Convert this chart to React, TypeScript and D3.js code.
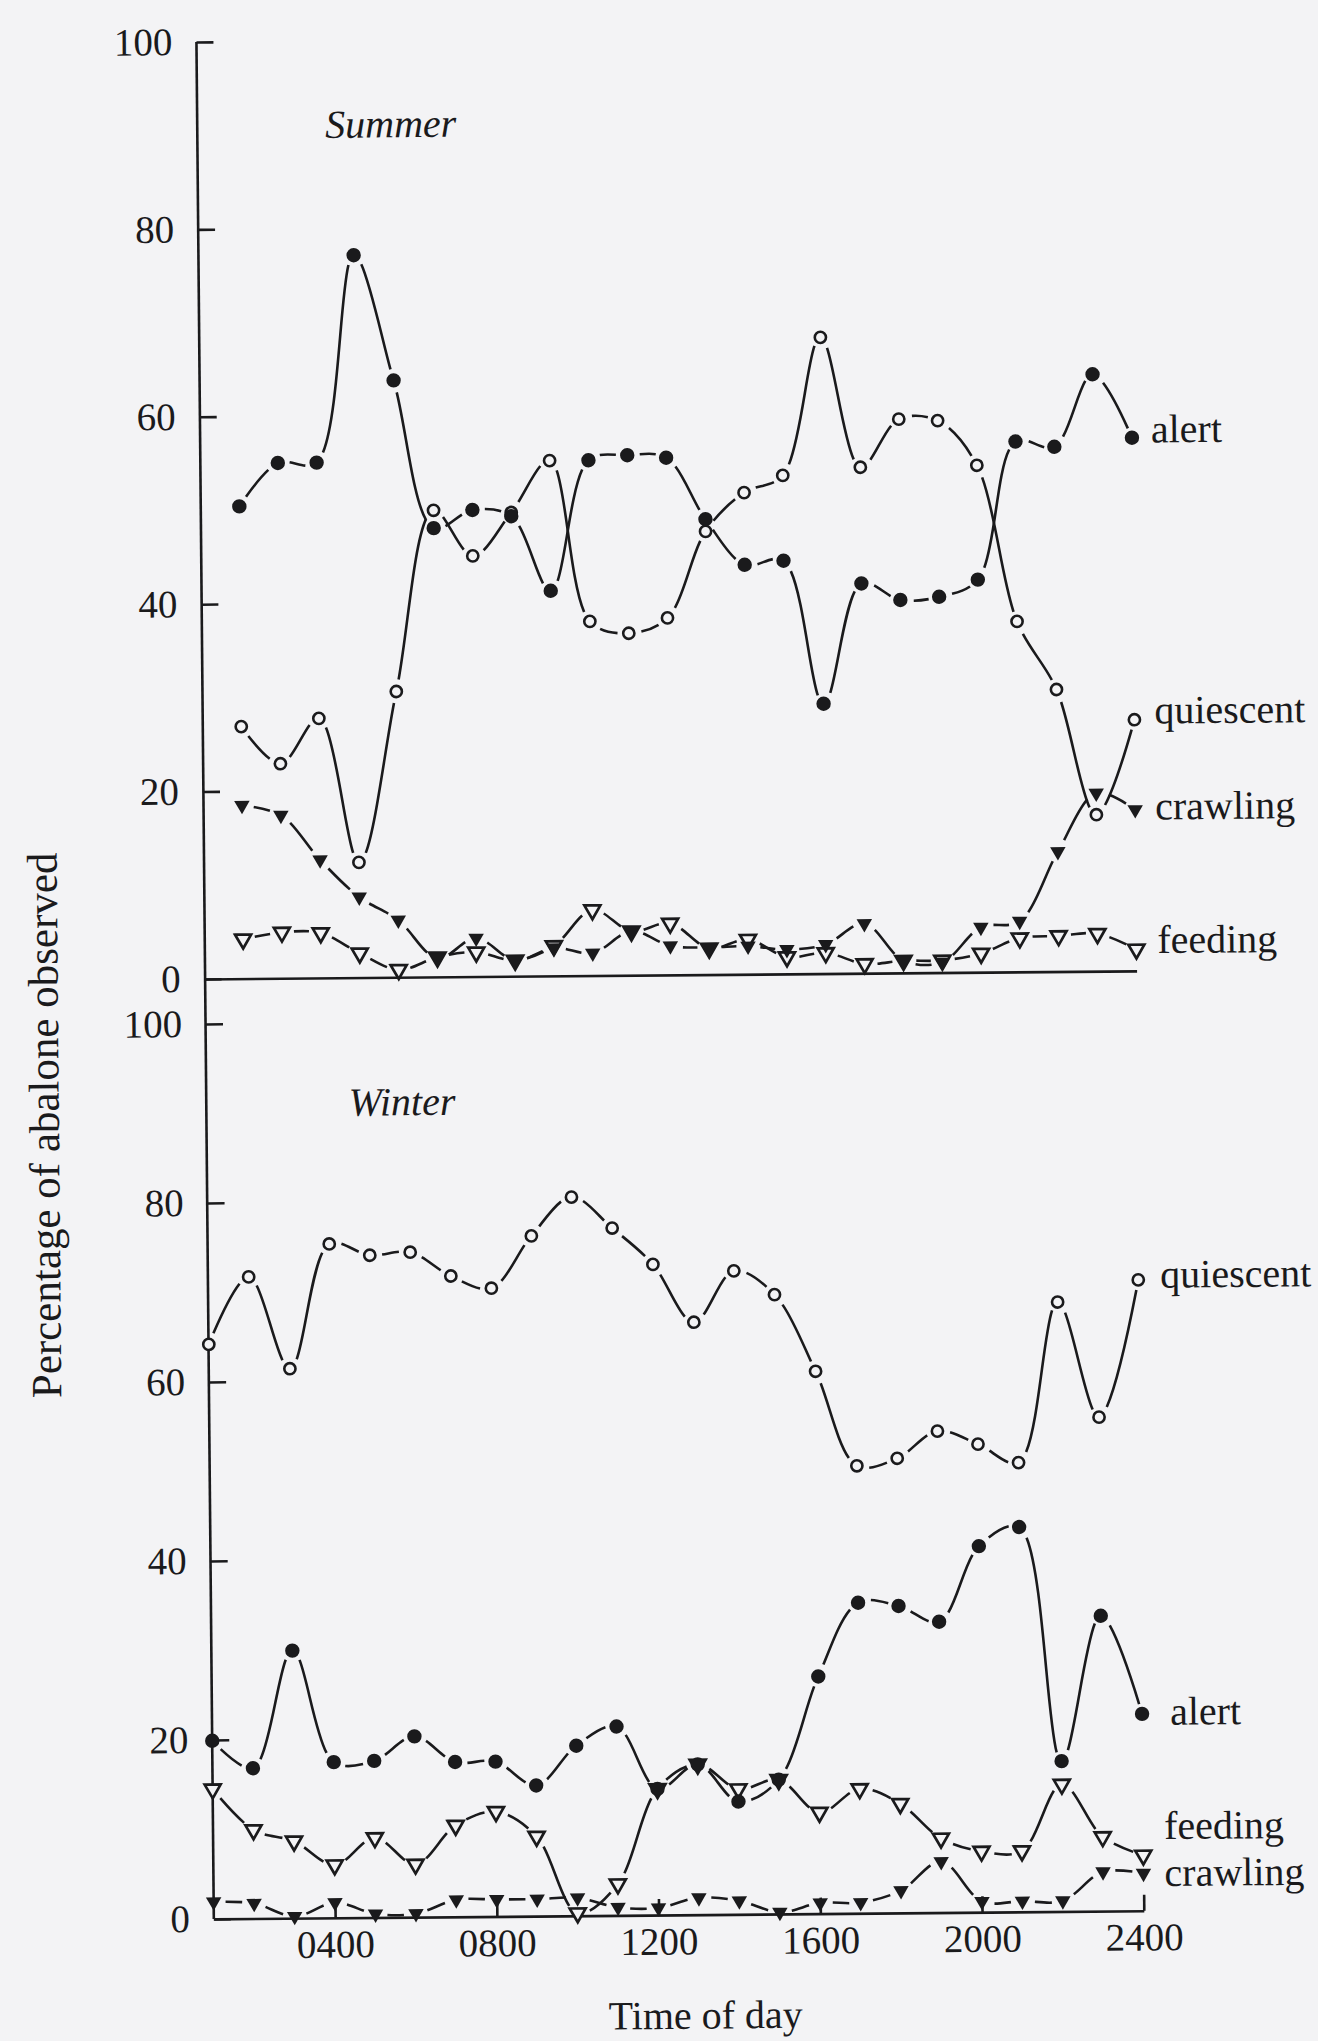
import React, { useEffect, useRef } from 'react';
import * as d3 from 'd3';

// hour of observation (0100 ... 2400)
const hours = [1, 2, 3, 4, 5, 6, 7, 8, 9, 10, 11, 12, 13, 14, 15, 16, 17, 18, 19, 20, 21, 22, 23, 24];
const xTickHours = [4, 8, 12, 16, 20, 24];
const xTickLabels = ['0400', '0800', '1200', '1600', '2000', '2400'];
const yTicks = [0, 20, 40, 60, 80, 100];

// Summer (% of abalone observed)
const summerAlert = [50.4, 55.0, 55.0, 77.1, 63.7, 47.9, 49.8, 49.1, 41.1, 55.0, 55.5, 55.2, 48.6, 43.7, 44.1, 28.8, 41.6, 39.8, 40.1, 41.9, 56.6, 56.0, 63.7, 56.9];
const summerQuiescent = [26.9, 22.9, 27.7, 12.3, 30.5, 49.8, 44.9, 49.5, 55.0, 37.8, 36.5, 38.1, 47.3, 51.4, 53.2, 67.9, 54.0, 59.1, 58.9, 54.1, 37.4, 30.1, 16.7, 26.8];
const summerCrawling = [18.5, 17.4, 12.6, 8.6, 6.1, 2.0, 4.1, 1.7, 3.0, 2.4, 4.7, 3.1, 2.9, 3.0, 2.6, 3.1, 5.3, 1.3, 1.1, 4.8, 5.4, 12.8, 19.0, 17.2];
const summerFeeding = [4.2, 4.9, 4.8, 2.6, 0.8, 2.1, 2.6, 1.7, 3.2, 7.0, 4.7, 5.5, 2.8, 3.7, 1.8, 2.2, 1.0, 1.3, 1.3, 2.0, 3.6, 3.8, 4.0, 2.3];

// Winter
const winterQuiescent = [64.2, 71.7, 61.4, 75.3, 74.0, 74.3, 71.6, 70.2, 76.0, 80.3, 76.8, 72.7, 66.2, 71.9, 69.2, 60.6, 50.0, 50.8, 53.8, 52.3, 50.2, 68.1, 55.2, 70.5];
const winterAlert = [19.9, 16.8, 29.9, 17.4, 17.5, 20.2, 17.3, 17.3, 14.6, 19.0, 21.1, 14.1, 16.8, 12.6, 15.0, 26.5, 34.7, 34.3, 32.5, 40.9, 43.0, 16.8, 33.0, 22.0];
const winterFeeding = [14.5, 9.9, 8.6, 5.9, 8.9, 5.9, 10.2, 11.7, 8.9, 0.3, 3.5, 14.1, 16.8, 14.0, 15.0, 11.3, 13.9, 12.2, 8.3, 6.8, 6.8, 14.2, 8.3, 6.2];
const winterCrawling = [1.9, 1.7, 0.2, 1.7, 0.4, 0.4, 1.9, 1.9, 1.9, 2.0, 0.9, 0.8, 1.9, 1.5, 0.2, 1.2, 1.2, 2.5, 5.7, 1.2, 1.2, 1.2, 4.4, 4.2];

const INK = '#1a1a1c';
const PAPER = '#f3f3f5';
const FONT = '"Liberation Serif", "DejaVu Serif", serif';

type Marker = 'dot' | 'ring' | 'tri' | 'openTri';

export default function App() {
  const svgRef = useRef<SVGSVGElement>(null);

  useEffect(() => {
    if (!svgRef.current) return;
    const width = 1318;
    const height = 2041;

    const svg = d3.select(svgRef.current);
    svg.selectAll('*').remove();
    svg.append('rect').attr('width', width).attr('height', height).attr('fill', PAPER);

    // the printed figure sits slightly askew on the page
    const root = svg.append('g').attr('transform', 'rotate(-0.5, 659, 1020)');

    // Scales
    const xS = d3.scaleLinear().domain([0, 24]).range([205, 1137]);
    const yS = d3.scaleLinear().domain([0, 100]).range([975, 38]);
    const xW = d3.scaleLinear().domain([1, 24]).range([206, 1136]);
    const yW = d3.scaleLinear().domain([0, 100]).range([1915, 1020]);

    const panels = [
      {
        x: xS,
        y: yS,
        series: [
          { name: 'feeding', values: summerFeeding, marker: 'openTri' as Marker, dx: 21, dy: 4 },
          { name: 'quiescent', values: summerQuiescent, marker: 'ring' as Marker, dx: 20, dy: 4 },
          { name: 'crawling', values: summerCrawling, marker: 'tri' as Marker, dx: 20, dy: 10 },
          { name: 'alert', values: summerAlert, marker: 'dot' as Marker, dx: 19, dy: 5 },
        ],
      },
      {
        x: xW,
        y: yW,
        series: [
          { name: 'feeding', values: winterFeeding, marker: 'openTri' as Marker, dx: 21, dy: -16 },
          { name: 'quiescent', values: winterQuiescent, marker: 'ring' as Marker, dx: 22, dy: 8 },
          { name: 'crawling', values: winterCrawling, marker: 'tri' as Marker, dx: 21, dy: 13 },
          { name: 'alert', values: winterAlert, marker: 'dot' as Marker, dx: 28, dy: 11 },
        ],
      },
    ];

    // Axes
    const styleAxis = (g: d3.Selection<SVGGElement, unknown, null, undefined>) => {
      g.attr('font-family', FONT).attr('font-size', 39).attr('color', INK);
      g.selectAll('line').attr('stroke-width', 2.6);
      g.selectAll('path').attr('stroke-width', 2.6);
    };

    const ySummerAxis = root
      .append('g')
      .attr('transform', `translate(${xS(0)},0)`)
      .call(d3.axisLeft(yS).tickValues(yTicks).tickSizeInner(-17).tickSizeOuter(0).tickPadding(24));
    ySummerAxis.select('.domain').remove();
    styleAxis(ySummerAxis);

    const yWinterAxis = root
      .append('g')
      .attr('transform', `translate(${xW(1)},0)`)
      .call(d3.axisLeft(yW).tickValues(yTicks).tickSizeInner(-17).tickSizeOuter(0).tickPadding(24));
    yWinterAxis.select('.domain').remove();
    styleAxis(yWinterAxis);

    // one continuous spine for both panels
    root
      .append('line')
      .attr('x1', xS(0))
      .attr('y1', yS(100))
      .attr('x2', xW(1))
      .attr('y2', yW(0))
      .attr('stroke', INK)
      .attr('stroke-width', 2.6);

    const xSummerAxis = root
      .append('g')
      .attr('transform', `translate(0,${yS(0)})`)
      .call(d3.axisBottom(xS).tickValues([]).tickSizeOuter(0));
    styleAxis(xSummerAxis);

    const xWinterAxis = root
      .append('g')
      .attr('transform', `translate(0,${yW(0)})`)
      .call(
        d3
          .axisBottom(xW)
          .tickValues(xTickHours)
          .tickFormat((_, i) => xTickLabels[i])
          .tickSizeInner(-16)
          .tickSizeOuter(0)
          .tickPadding(12),
      );
    styleAxis(xWinterAxis);

    // Lines with a small gap around every point
    const line = d3
      .line<[number, number]>()
      .x((d) => d[0])
      .y((d) => d[1])
      .curve(d3.curveCatmullRom.alpha(0.5));

    const gap = 12;
    const linesG = root.append('g');

    panels.forEach((panel) => {
      panel.series.forEach((s) => {
        const pts: [number, number][] = s.values.map((v, i) => [panel.x(hours[i]), panel.y(v)]);
        const path = linesG
          .append('path')
          .attr('d', line(pts))
          .attr('fill', 'none')
          .attr('stroke', INK)
          .attr('stroke-width', 2.6);

        const node = path.node()!;
        const total = node.getTotalLength();
        const samples: { l: number; x: number; y: number }[] = [];
        for (let l = 0; l <= total; l += 0.5) {
          const p = node.getPointAtLength(l);
          samples.push({ l, x: p.x, y: p.y });
        }
        const at: number[] = [];
        let start = 0;
        pts.forEach(([px, py], i) => {
          if (i === 0) return at.push(0);
          if (i === pts.length - 1) return at.push(total);
          let best = start;
          let bd = Infinity;
          for (let k = start; k < samples.length; k++) {
            const d = (samples[k].x - px) ** 2 + (samples[k].y - py) ** 2;
            if (d < bd) {
              bd = d;
              best = k;
            }
            if (bd < 1 && d > 900) break;
          }
          at.push(samples[best].l);
          start = best;
        });

        const dash: number[] = [0];
        let cur = 0;
        for (let i = 1; i < at.length; i++) {
          const a = at[i - 1] + gap;
          const b = at[i] - gap;
          if (b > a) {
            dash.push(a - cur, b - a);
            cur = b;
          }
        }
        dash.push(total - cur + 20);
        path.attr('stroke-dasharray', dash.join(' '));
      });
    });

    // Markers
    const markersG = root.append('g');
    const triPath = (side: number) => {
      const h = (side * Math.sqrt(3)) / 2;
      return `M${-side / 2},${-h / 3}L${side / 2},${-h / 3}L0,${(2 * h) / 3}Z`;
    };

    const drawMarker = (g: d3.Selection<SVGGElement, unknown, null, undefined>, m: Marker, cx: number, cy: number) => {
      if (m === 'dot') {
        g.append('circle').attr('cx', cx).attr('cy', cy).attr('r', 7.2).attr('fill', INK);
      } else if (m === 'ring') {
        g.append('circle')
          .attr('cx', cx)
          .attr('cy', cy)
          .attr('r', 5.6)
          .attr('fill', PAPER)
          .attr('stroke', INK)
          .attr('stroke-width', 2.6);
      } else if (m === 'tri') {
        g.append('path').attr('d', triPath(15.5)).attr('transform', `translate(${cx},${cy})`).attr('fill', INK);
      } else {
        g.append('path')
          .attr('d', triPath(16))
          .attr('transform', `translate(${cx},${cy})`)
          .attr('fill', PAPER)
          .attr('stroke', INK)
          .attr('stroke-width', 2.7)
          .attr('stroke-linejoin', 'miter');
      }
    };

    panels.forEach((panel) => {
      panel.series.forEach((s) => {
        s.values.forEach((v, i) => drawMarker(markersG, s.marker, panel.x(hours[i]), panel.y(v)));
        const last = s.values.length - 1;
        markersG
          .append('text')
          .attr('x', panel.x(hours[last]) + s.dx)
          .attr('y', panel.y(s.values[last]) + s.dy)
          .attr('font-family', FONT)
          .attr('font-size', 40)
          .attr('fill', INK)
          .text(s.name);
      });
    });

    // Panel titles and axis titles
    root
      .append('text')
      .attr('x', 333)
      .attr('y', 135)
      .attr('font-family', FONT)
      .attr('font-style', 'italic')
      .attr('font-size', 40)
      .attr('fill', INK)
      .text('Summer');

    root
      .append('text')
      .attr('x', 348)
      .attr('y', 1113)
      .attr('font-family', FONT)
      .attr('font-style', 'italic')
      .attr('font-size', 40)
      .attr('fill', INK)
      .text('Winter');

    root
      .append('text')
      .attr('transform', 'translate(58,1120) rotate(-90)')
      .attr('text-anchor', 'middle')
      .attr('font-family', FONT)
      .attr('font-size', 43)
      .attr('fill', INK)
      .text('Percentage  of abalone observed');

    root
      .append('text')
      .attr('x', 697)
      .attr('y', 2029)
      .attr('text-anchor', 'middle')
      .attr('font-family', FONT)
      .attr('font-size', 40)
      .attr('fill', INK)
      .text('Time of day');
  }, []);

  return (
    <svg
      ref={svgRef}
      width={1318}
      height={2041}
      style={{ position: 'absolute', left: 0, top: 0, display: 'block' }}
    />
  );
}
